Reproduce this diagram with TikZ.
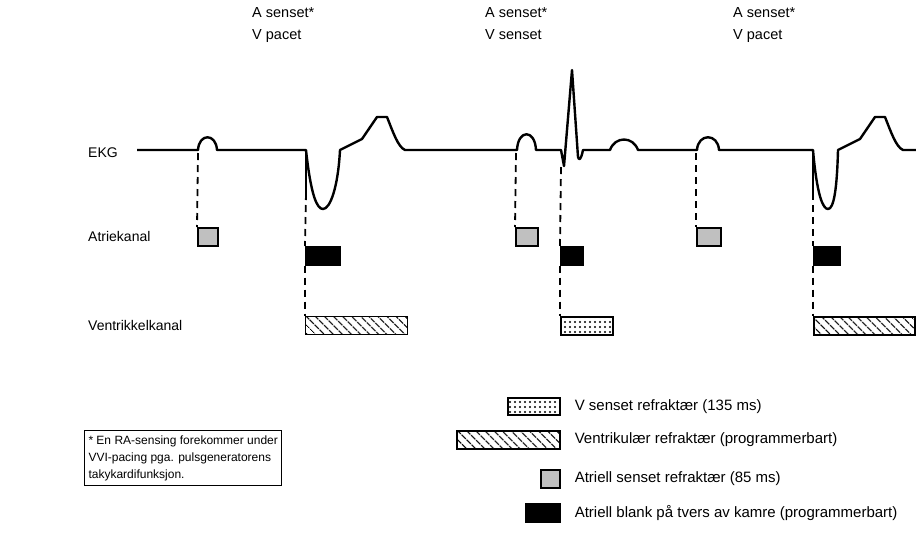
\documentclass[tikz,border=0pt]{standalone}
\usepackage{fontspec}
\setmainfont{Liberation Sans}
\usetikzlibrary{patterns.meta}
\definecolor{boxgray}{RGB}{192,192,192}
\begin{document}
\begin{tikzpicture}[x=1pt,y=-1pt,
  wave/.style={line width=2.4pt, line join=round},
  guide/.style={line width=1.8pt, dash pattern=on 7pt off 5pt},
  chbox/.style={draw, line width=1.6pt, inner sep=0pt, anchor=north west, minimum height=18pt},
  graybox/.style={chbox, fill=boxgray, minimum width=20pt},
  blackbox/.style={chbox, fill=black},
  hatchbox/.style={chbox, pattern={Lines[angle=-45,distance=6.5pt,line width=1.2pt]}},
  dotbox/.style={chbox, pattern={Dots[distance=5pt,radius=1.1pt]}},
  lbl/.style={font=\fontsize{14}{18}\selectfont, anchor=west, inner sep=0pt},
  leglbl/.style={font=\fontsize{15}{18}\selectfont, anchor=west, inner sep=0pt},
  toplbl/.style={font=\fontsize{14.5}{22}\selectfont, anchor=north west, align=left, inner sep=0pt}
]
\useasboundingbox (0,0) rectangle (916,542);

% top labels
\node[toplbl] (top1) at (252,7) {A senset*\\V pacet};
\node[toplbl] (top2) at (485,7) {A senset*\\V senset};
\node[toplbl] (top3) at (733,7) {A senset*\\V pacet};

% row labels
\node[lbl] (ekg) at (88,153) {EKG};
\node[lbl] (atr) at (88,236) {Atriekanal};
\node[lbl] (ven) at (88,325) {Ventrikkelkanal};

% ECG waveform
\draw[wave] (137,150) -- (198,150)
  .. controls (199,133) and (216,133) .. (217,150)
  -- (306,150)
  .. controls (311,196) and (317,209) .. (323,209)
  .. controls (330,209) and (338,188) .. (340,150)
  -- (362,139) -- (377,117) -- (387,117)
  .. controls (393,132) and (398,147) .. (405,150)
  -- (517,150)
  .. controls (518,129) and (535,129) .. (536,150)
  -- (561,150) -- (564,166) -- (572,70) -- (578,157)
  .. controls (579,161) and (581,160) .. (583,150)
  -- (610,150)
  .. controls (615,136) and (633,136) .. (638,150)
  -- (697,150)
  .. controls (698,133) and (718,133) .. (719,150)
  -- (813,150)
  .. controls (817,196) and (823,209) .. (828,209)
  .. controls (834,209) and (837,188) .. (838,150)
  -- (860,139) -- (875,117) -- (885,117)
  .. controls (891,132) and (896,147) .. (903,150)
  -- (916,150);
\draw[wave] (306,150) -- (306,193);

% guide start points
\coordinate (s1) at (198,153);
\coordinate (s2) at (306,193);
\coordinate (s3) at (516,153);
\coordinate (s4) at (561,167);
\coordinate (s5) at (696,153);
\coordinate (s6) at (813,193);
\draw[wave] (813,150) -- (s6);

% channel boxes
\node[graybox] (g1) at (197,227) {};
\node[graybox, minimum width=22pt] (g2) at (515,227) {};
\node[graybox, minimum width=24pt] (g3) at (696,227) {};
\node[blackbox, minimum width=34pt] (b1) at (305,246) {};
\node[blackbox, minimum width=22pt] (b2) at (560,246) {};
\node[blackbox, minimum width=26pt] (b3) at (813,246) {};
\node[hatchbox, minimum width=102pt] (h1) at (305,316) {};
\node[dotbox, minimum width=52pt] (d1) at (560,316) {};
\node[hatchbox, minimum width=101pt] (h2) at (813,316) {};

% dashed guides
\draw[guide] (s1) -- (g1.north west);
\draw[guide] (s2) -- (b1.north west);
\draw[guide] (b1.south west) -- (h1.north west);
\draw[guide] (s3) -- (g2.north west);
\draw[guide] (s4) -- (b2.north west);
\draw[guide] (b2.south west) -- (d1.north west);
\draw[guide] (s5) -- (g3.north west);
\draw[guide] (s6) -- (b3.north west);
\draw[guide] (b3.south west) -- (h2.north west);

% legend
\node[dotbox, minimum width=52pt, minimum height=17pt] (L1) at (507,397) {};
\node[hatchbox, minimum width=103pt] (L2) at (456,430) {};
\node[graybox, minimum width=19pt] (L3) at (540,469) {};
\node[blackbox, minimum width=34pt] (L4) at (525,503) {};
\node[leglbl] (t1) at ([xshift=14pt]L1.east) {V senset refraktær (135 ms)};
\node[leglbl] (t2) at ([xshift=14pt]L2.east) {Ventrikulær refraktær (programmerbart)};
\node[leglbl] (t3) at ([xshift=14pt]L3.east) {Atriell senset refraktær (85 ms)};
\node[leglbl] (t4) at ([xshift=14pt]L4.east) {Atriell blank på tvers av kamre (programmerbart)};

% footnote
\node[draw, line width=1pt, anchor=north west, align=left, inner xsep=4pt, inner ysep=5pt,
  font=\fontsize{12}{17}\selectfont] (note) at (84,430)
  {* En RA-sensing forekommer under\\VVI-pacing pga. pulsgeneratorens\\takykardifunksjon.};
\end{tikzpicture}
\end{document}
